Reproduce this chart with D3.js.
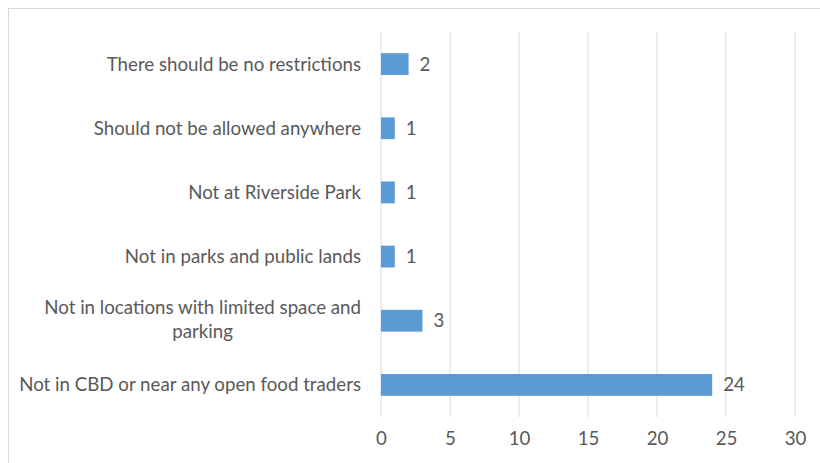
<!DOCTYPE html>
<html><head><meta charset="utf-8">
<script src="https://cdn.jsdelivr.net/npm/d3@7"></script>
<style>body{margin:0;background:#fff;}svg{display:block;}</style>
</head><body>
<script>
const categories = [
  "There should be no restrictions",
  "Should not be allowed anywhere",
  "Not at Riverside Park",
  "Not in parks and public lands",
  "Not in locations with limited space and parking",
  "Not in CBD or near any open food traders"
];
const labelLines = [
  ["There should be no restrictions"],
  ["Should not be allowed anywhere"],
  ["Not at Riverside Park"],
  ["Not in parks and public lands"],
  ["Not in locations with limited space and", "parking"],
  ["Not in CBD or near any open food traders"]
];
const values = [2, 1, 1, 1, 3, 24];
const xTicks = [0, 5, 10, 15, 20, 25, 30];

const W = 820, H = 463;
const font = "Lato, 'Open Sans', sans-serif";
const fs = 18.7;
const textColor = "#595959";
const svg = d3.select("body").append("svg").attr("width", W).attr("height", H);
svg.append("rect").attr("x", 8.5).attr("y", 8.5).attr("width", W).attr("height", H)
  .attr("fill", "#fff").attr("stroke", "#d9d9d9");

const m = {left: 381, right: 795, top: 32, bottom: 417};
const x = d3.scaleLinear().domain([0, 30]).range([m.left, m.right]);
const y = d3.scaleBand().domain(categories).range([m.top, m.bottom]).paddingInner(0.66).paddingOuter(0.33);

svg.append("g").selectAll("line").data(xTicks).join("line")
  .attr("x1", d => x(d)).attr("x2", d => x(d))
  .attr("y1", m.top).attr("y2", m.bottom)
  .attr("stroke", "#d9d9d9").attr("stroke-width", 1);

svg.append("g").selectAll("rect").data(values).join("rect")
  .attr("x", x(0)).attr("y", (d, i) => y(categories[i]))
  .attr("width", d => x(d) - x(0)).attr("height", y.bandwidth())
  .attr("fill", "#5b9bd5");

svg.append("g").selectAll("text").data(values).join("text")
  .attr("x", d => x(d) + 11).attr("y", (d, i) => y(categories[i]) + y.bandwidth() / 2)
  .attr("dy", "0.35em").attr("font-family", font).attr("font-size", fs)
  .attr("fill", textColor).text(d => d);

const axis = d3.axisBottom(x).tickValues(xTicks).tickSize(0).tickPadding(15);
const ax = svg.append("g").attr("transform", `translate(0,${m.bottom})`).call(axis);
ax.select(".domain").remove();
ax.selectAll("text").attr("font-family", font).attr("font-size", fs).attr("fill", textColor);

const lab = svg.append("g");
labelLines.forEach((lines, i) => {
  const cy = y(categories[i]) + y.bandwidth() / 2;
  const lh = 24;
  if (lines.length === 1) {
    lab.append("text").attr("x", 361).attr("y", cy).attr("dy", "0.35em")
      .attr("text-anchor", "end").attr("font-family", font).attr("font-size", fs)
      .attr("fill", textColor).text(lines[0]);
  } else {
    const t = lab.append("text").attr("font-family", font).attr("font-size", fs)
      .attr("fill", textColor).attr("text-anchor", "middle");
    const first = t.append("tspan").attr("x", 0).attr("y", cy - lh / 2 - 1).attr("dy", "0.35em").text(lines[0]);
    const w = first.node().getComputedTextLength();
    const cx = 361 - w / 2;
    t.selectAll("tspan").attr("x", cx);
    t.append("tspan").attr("x", cx).attr("y", cy + lh / 2 - 1).attr("dy", "0.35em").text(lines[1]);
  }
});
</script>
</body></html>
